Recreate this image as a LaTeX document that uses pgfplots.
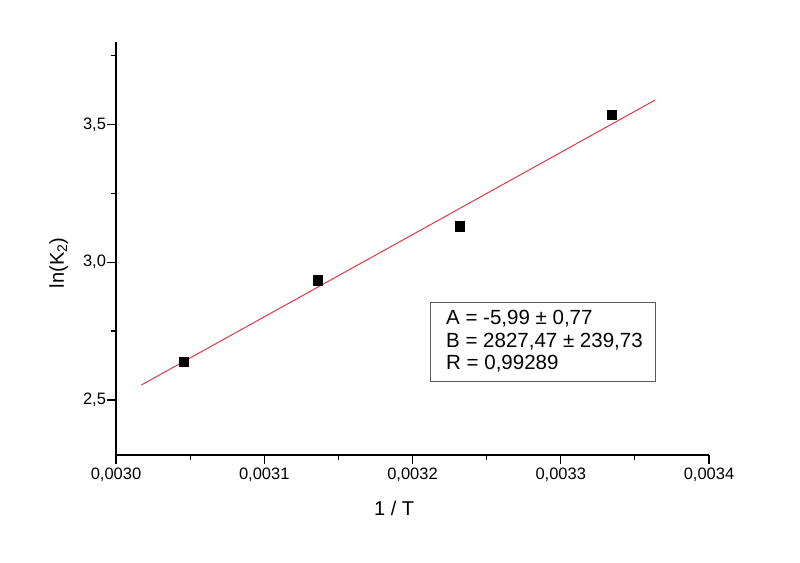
\documentclass[border=0pt]{standalone}
\usepackage{fontspec}
\setmainfont{Liberation Sans}
\usepackage{pgfplots}
\pgfplotsset{compat=1.18}
\definecolor{fitred}{RGB}{225,40,55}
\definecolor{boxgray}{RGB}{90,90,90}
\begin{document}
\begin{tikzpicture}
\path[use as bounding box] (0,0) rectangle (800pt,562pt);
\begin{axis}[
  at={(116pt,107pt)}, anchor=south west,
  scale only axis, width=593pt, height=413pt,
  xmin=0.0030, xmax=0.0034, ymin=2.3, ymax=3.8,
  axis x line=bottom, axis y line=left,
  axis line style={-, line width=1.2pt},
  xtick={0.0030,0.0031,0.0032,0.0033,0.0034},
  minor xtick={0.00305,0.00315,0.00325,0.00335},
  ytick={2.5,3.0,3.5},
  minor ytick={2.75,3.25,3.75},
  tick align=outside,
  major tick length=9pt, minor tick length=5pt,
  every tick/.style={black, line width=1.2pt},
  scaled x ticks=false,
  /pgf/number format/assume math mode=true,
  xticklabel style={/pgf/number format/.cd, fixed, fixed zerofill, precision=4, use comma},
  yticklabel style={xshift=2.5pt, /pgf/number format/.cd, fixed, fixed zerofill, precision=1, use comma},
  tick label style={font=\fontsize{16.5}{19}\selectfont},
  xlabel={1 / T},
  ylabel={ln(K\textsubscript{2})},
  label style={font=\fontsize{20}{23}\selectfont},
  xlabel style={at={(axis description cs:0.469,-0.130)}, anchor=center},
  ylabel style={at={(axis description cs:-0.0966,0.465)}, anchor=center},
  clip=false,
]
\addplot[fitred, line width=0.9pt] coordinates {(0.003017,2.554) (0.0033636,3.589)};
\addplot[only marks, mark=square*, mark size=4.6pt, black] coordinates {
  (0.0030454,2.639) (0.0031358,2.935) (0.0032316,3.131) (0.0033344,3.537)};
\draw[boxgray, line width=0.9pt] (rel axis cs:0.5295,0.179) rectangle (rel axis cs:0.909,0.370);
\node[anchor=west, inner sep=0pt, font=\fontsize{20.5}{24}\selectfont] at (rel axis cs:0.5565,0.329) {A = -5,99 ± 0,77};
\node[anchor=west, inner sep=0pt, font=\fontsize{20.5}{24}\selectfont] at (rel axis cs:0.5565,0.274) {B = 2827,47 ± 239,73};
\node[anchor=west, inner sep=0pt, font=\fontsize{20.5}{24}\selectfont] at (rel axis cs:0.5565,0.220) {R = 0,99289};
\end{axis}
\end{tikzpicture}
\end{document}
